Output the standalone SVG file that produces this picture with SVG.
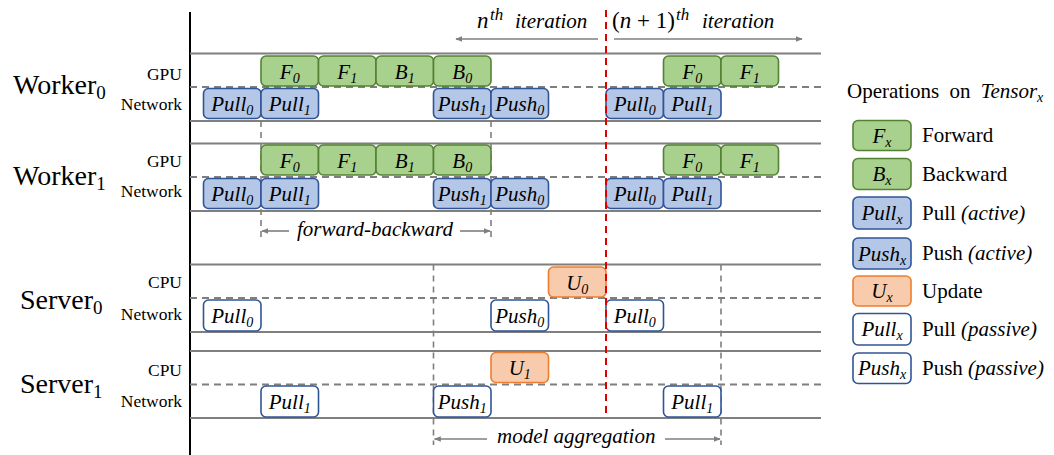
<svg xmlns="http://www.w3.org/2000/svg" width="1054" height="455" viewBox="0 0 1054 455" font-family="'Liberation Serif', 'DejaVu Serif', serif">
  <style>
    text { font-family: "Liberation Serif", "DejaVu Serif", serif; fill: #000; }
    .it { font-style: italic; }
    .op { font-style: italic; font-size: 21px; text-anchor: middle; }
    .sub { font-size: 14px; }
    .who { font-size: 28px; }
    .res { font-size: 17.5px; text-anchor: end; }
    .lg { font-size: 21px; }
    .row { stroke: #7f7f7f; stroke-width: 2; fill: none; }
    .mid { stroke: #7f7f7f; stroke-width: 2; stroke-dasharray: 7 5; fill: none; }
    .vd { stroke: #7f7f7f; stroke-width: 1.6; stroke-dasharray: 6 5; fill: none; }
    .arr { stroke: #7f7f7f; stroke-width: 1.6; fill: none; marker-end: url(#head); }
    .fwd { fill: #a9d18e; stroke: #548235; stroke-width: 1.6; }
    .act { fill: #b4c7e7; stroke: #2f5597; stroke-width: 1.6; }
    .upd { fill: #f8cbad; stroke: #ed7d31; stroke-width: 1.6; }
    .pas { fill: #ffffff; stroke: #2f5597; stroke-width: 1.6; }
  </style>
  <defs>
    <marker id="head" viewBox="0 0 10 10" refX="9" refY="5" markerWidth="7" markerHeight="7" orient="auto" markerUnits="userSpaceOnUse">
      <path d="M0,1 L10,5 L0,9 z" fill="#7f7f7f"/>
    </marker>
  </defs>

  <!-- time axis and lane grid -->
  <g id="grid">
    <line x1="190" y1="12" x2="190" y2="455" stroke="#000" stroke-width="2"/>
    <!-- Worker0 -->
    <line class="row" x1="190" y1="53.5" x2="821" y2="53.5"/>
    <line class="mid" x1="190" y1="87" x2="821" y2="87"/>
    <line class="row" x1="190" y1="121" x2="821" y2="121"/>
    <!-- Worker1 -->
    <line class="row" x1="190" y1="143.5" x2="821" y2="143.5"/>
    <line class="mid" x1="190" y1="177" x2="821" y2="177"/>
    <line class="row" x1="190" y1="211" x2="821" y2="211"/>
    <!-- Server0 -->
    <line class="row" x1="190" y1="264.5" x2="821" y2="264.5"/>
    <line class="mid" x1="190" y1="298" x2="821" y2="298"/>
    <line class="row" x1="190" y1="332" x2="821" y2="332"/>
    <!-- Server1 -->
    <line class="row" x1="190" y1="351" x2="821" y2="351"/>
    <line class="mid" x1="190" y1="384.5" x2="821" y2="384.5"/>
    <line class="row" x1="190" y1="418" x2="821" y2="418"/>
    <!-- span markers -->
    <line class="vd" x1="261" y1="121" x2="261" y2="238"/>
    <line class="vd" x1="491" y1="121" x2="491" y2="238"/>
    <line class="vd" x1="433.5" y1="264.5" x2="433.5" y2="445"/>
    <line class="vd" x1="721" y1="264.5" x2="721" y2="445"/>
  </g>

  <!-- lane labels -->
  <g id="labels">
    <text class="who" x="13" y="94">Worker<tspan font-size="19" dy="5">0</tspan></text>
    <text class="res" x="182" y="80">GPU</text>
    <text class="res" x="182" y="110">Network</text>
    <text class="who" x="13" y="185">Worker<tspan font-size="19" dy="5">1</tspan></text>
    <text class="res" x="182" y="167">GPU</text>
    <text class="res" x="182" y="197">Network</text>
    <text class="who" x="20" y="309">Server<tspan font-size="19" dy="5">0</tspan></text>
    <text class="res" x="182" y="288">CPU</text>
    <text class="res" x="182" y="320">Network</text>
    <text class="who" x="20" y="393">Server<tspan font-size="19" dy="5">1</tspan></text>
    <text class="res" x="182" y="376">CPU</text>
    <text class="res" x="182" y="407">Network</text>
  </g>

  <!-- Worker0 operations -->
  <g id="w0-f0"><rect class="fwd" x="261" y="56" width="57.5" height="30" rx="5"/><text class="op" x="289.75" y="79">F<tspan class="sub" dy="4">0</tspan></text></g>
  <g id="w0-f1"><rect class="fwd" x="318.5" y="56" width="57.5" height="30" rx="5"/><text class="op" x="347.25" y="79">F<tspan class="sub" dy="4">1</tspan></text></g>
  <g id="w0-b1"><rect class="fwd" x="376" y="56" width="57.5" height="30" rx="5"/><text class="op" x="404.75" y="79">B<tspan class="sub" dy="4">1</tspan></text></g>
  <g id="w0-b0"><rect class="fwd" x="433.5" y="56" width="57.5" height="30" rx="5"/><text class="op" x="462.25" y="79">B<tspan class="sub" dy="4">0</tspan></text></g>
  <g id="w0-f0-next"><rect class="fwd" x="663.5" y="56" width="57.5" height="30" rx="5"/><text class="op" x="692.25" y="79">F<tspan class="sub" dy="4">0</tspan></text></g>
  <g id="w0-f1-next"><rect class="fwd" x="721" y="56" width="57.5" height="30" rx="5"/><text class="op" x="749.75" y="79">F<tspan class="sub" dy="4">1</tspan></text></g>
  <g id="w0-pull0"><rect class="act" x="203.5" y="88.5" width="57.5" height="30" rx="5"/><text class="op" x="232.25" y="111">Pull<tspan class="sub" dy="4">0</tspan></text></g>
  <g id="w0-pull1"><rect class="act" x="261" y="88.5" width="57.5" height="30" rx="5"/><text class="op" x="289.75" y="111">Pull<tspan class="sub" dy="4">1</tspan></text></g>
  <g id="w0-push1"><rect class="act" x="433.5" y="88.5" width="57.5" height="30" rx="5"/><text class="op" x="462.25" y="111">Push<tspan class="sub" dy="4">1</tspan></text></g>
  <g id="w0-push0"><rect class="act" x="491" y="88.5" width="57.5" height="30" rx="5"/><text class="op" x="519.75" y="111">Push<tspan class="sub" dy="4">0</tspan></text></g>
  <g id="w0-pull0-next"><rect class="act" x="606" y="88.5" width="57.5" height="30" rx="5"/><text class="op" x="634.75" y="111">Pull<tspan class="sub" dy="4">0</tspan></text></g>
  <g id="w0-pull1-next"><rect class="act" x="663.5" y="88.5" width="57.5" height="30" rx="5"/><text class="op" x="692.25" y="111">Pull<tspan class="sub" dy="4">1</tspan></text></g>

  <!-- Worker1 operations -->
  <g id="w1-f0"><rect class="fwd" x="261" y="145" width="57.5" height="30" rx="5"/><text class="op" x="289.75" y="168">F<tspan class="sub" dy="4">0</tspan></text></g>
  <g id="w1-f1"><rect class="fwd" x="318.5" y="145" width="57.5" height="30" rx="5"/><text class="op" x="347.25" y="168">F<tspan class="sub" dy="4">1</tspan></text></g>
  <g id="w1-b1"><rect class="fwd" x="376" y="145" width="57.5" height="30" rx="5"/><text class="op" x="404.75" y="168">B<tspan class="sub" dy="4">1</tspan></text></g>
  <g id="w1-b0"><rect class="fwd" x="433.5" y="145" width="57.5" height="30" rx="5"/><text class="op" x="462.25" y="168">B<tspan class="sub" dy="4">0</tspan></text></g>
  <g id="w1-f0-next"><rect class="fwd" x="663.5" y="145" width="57.5" height="30" rx="5"/><text class="op" x="692.25" y="168">F<tspan class="sub" dy="4">0</tspan></text></g>
  <g id="w1-f1-next"><rect class="fwd" x="721" y="145" width="57.5" height="30" rx="5"/><text class="op" x="749.75" y="168">F<tspan class="sub" dy="4">1</tspan></text></g>
  <g id="w1-pull0"><rect class="act" x="203.5" y="178.5" width="57.5" height="30" rx="5"/><text class="op" x="232.25" y="201">Pull<tspan class="sub" dy="4">0</tspan></text></g>
  <g id="w1-pull1"><rect class="act" x="261" y="178.5" width="57.5" height="30" rx="5"/><text class="op" x="289.75" y="201">Pull<tspan class="sub" dy="4">1</tspan></text></g>
  <g id="w1-push1"><rect class="act" x="433.5" y="178.5" width="57.5" height="30" rx="5"/><text class="op" x="462.25" y="201">Push<tspan class="sub" dy="4">1</tspan></text></g>
  <g id="w1-push0"><rect class="act" x="491" y="178.5" width="57.5" height="30" rx="5"/><text class="op" x="519.75" y="201">Push<tspan class="sub" dy="4">0</tspan></text></g>
  <g id="w1-pull0-next"><rect class="act" x="606" y="178.5" width="57.5" height="30" rx="5"/><text class="op" x="634.75" y="201">Pull<tspan class="sub" dy="4">0</tspan></text></g>
  <g id="w1-pull1-next"><rect class="act" x="663.5" y="178.5" width="57.5" height="30" rx="5"/><text class="op" x="692.25" y="201">Pull<tspan class="sub" dy="4">1</tspan></text></g>

  <!-- Server0 operations -->
  <g id="s0-u0"><rect class="upd" x="548.5" y="267" width="57.5" height="30" rx="5"/><text class="op" x="577.25" y="290">U<tspan class="sub" dy="4">0</tspan></text></g>
  <g id="s0-pull0"><rect class="pas" x="203.5" y="300" width="57.5" height="31" rx="5"/><text class="op" x="232.25" y="323">Pull<tspan class="sub" dy="4">0</tspan></text></g>
  <g id="s0-push0"><rect class="pas" x="491" y="300" width="57.5" height="31" rx="5"/><text class="op" x="519.75" y="323">Push<tspan class="sub" dy="4">0</tspan></text></g>
  <g id="s0-pull0-next"><rect class="pas" x="606" y="300" width="57.5" height="31" rx="5"/><text class="op" x="634.75" y="323">Pull<tspan class="sub" dy="4">0</tspan></text></g>

  <!-- Server1 operations -->
  <g id="s1-u1"><rect class="upd" x="491" y="352.5" width="57.5" height="30" rx="5"/><text class="op" x="519.75" y="375">U<tspan class="sub" dy="4">1</tspan></text></g>
  <g id="s1-pull1"><rect class="pas" x="261" y="386" width="57.5" height="31" rx="5"/><text class="op" x="289.75" y="409">Pull<tspan class="sub" dy="4">1</tspan></text></g>
  <g id="s1-push1"><rect class="pas" x="433.5" y="386" width="57.5" height="31" rx="5"/><text class="op" x="462.25" y="409">Push<tspan class="sub" dy="4">1</tspan></text></g>
  <g id="s1-pull1-next"><rect class="pas" x="663.5" y="386" width="57.5" height="31" rx="5"/><text class="op" x="692.25" y="409">Pull<tspan class="sub" dy="4">1</tspan></text></g>

  <!-- iteration boundary -->
  <g id="boundary">
    <line x1="606" y1="10" x2="606" y2="418" stroke="#e00000" stroke-width="2" stroke-dasharray="7 5"/>
  </g>

  <!-- span arrows -->
  <g id="connectors">
    <line class="arr" x1="598" y1="39" x2="456" y2="39"/>
    <line class="arr" x1="614" y1="39" x2="802" y2="39"/>
    <line class="arr" x1="289" y1="231" x2="262" y2="231"/>
    <line class="arr" x1="460" y1="231" x2="490" y2="231"/>
    <line class="arr" x1="487" y1="439" x2="434.5" y2="439"/>
    <line class="arr" x1="665" y1="439" x2="720" y2="439"/>
  </g>

  <!-- span captions -->
  <g id="captions">
    <text class="it" x="477" y="28" font-size="23">n</text>
    <text class="it" x="490" y="19.5" font-size="17">th</text>
    <text class="it" x="515" y="28" font-size="21">iteration</text>
    <text x="612" y="28" font-size="23">(<tspan class="it">n</tspan> + 1)</text>
    <text class="it" x="676" y="19.5" font-size="17">th</text>
    <text class="it" x="702" y="28" font-size="21">iteration</text>
    <text class="it" x="297" y="236" font-size="21">forward-backward</text>
    <text class="it" x="497" y="443" font-size="21">model aggregation</text>
  </g>

  <!-- legend -->
  <g id="legend">
    <text class="lg" x="847" y="98" word-spacing="5">Operations on <tspan class="it">Tensor</tspan><tspan class="it sub" dy="4">x</tspan></text>
    <g id="lg-forward"><rect class="fwd" x="853" y="120.5" width="58" height="30" rx="5"/><text class="op" x="882" y="143">F<tspan class="sub" dy="4">x</tspan></text><text class="lg" x="922" y="142">Forward</text></g>
    <g id="lg-backward"><rect class="fwd" x="853" y="158.5" width="58" height="31" rx="5"/><text class="op" x="882" y="181">B<tspan class="sub" dy="4">x</tspan></text><text class="lg" x="922" y="181">Backward</text></g>
    <g id="lg-pull-active"><rect class="act" x="853" y="197" width="58" height="32" rx="5"/><text class="op" x="882" y="220">Pull<tspan class="sub" dy="4">x</tspan></text><text class="lg" x="922" y="220">Pull <tspan class="it">(active)</tspan></text></g>
    <g id="lg-push-active"><rect class="act" x="853" y="238" width="58" height="31" rx="5"/><text class="op" x="882" y="261">Push<tspan class="sub" dy="4">x</tspan></text><text class="lg" x="922" y="260">Push <tspan class="it">(active)</tspan></text></g>
    <g id="lg-update"><rect class="upd" x="853" y="276" width="58" height="30" rx="5"/><text class="op" x="882" y="298">U<tspan class="sub" dy="4">x</tspan></text><text class="lg" x="922" y="298">Update</text></g>
    <g id="lg-pull-passive"><rect class="pas" x="853" y="313.5" width="58" height="31.5" rx="5"/><text class="op" x="882" y="336">Pull<tspan class="sub" dy="4">x</tspan></text><text class="lg" x="922" y="336">Pull <tspan class="it">(passive)</tspan></text></g>
    <g id="lg-push-passive"><rect class="pas" x="853" y="353" width="58" height="30.5" rx="5"/><text class="op" x="882" y="375">Push<tspan class="sub" dy="4">x</tspan></text><text class="lg" x="922" y="375">Push <tspan class="it">(passive)</tspan></text></g>
  </g>
</svg>
